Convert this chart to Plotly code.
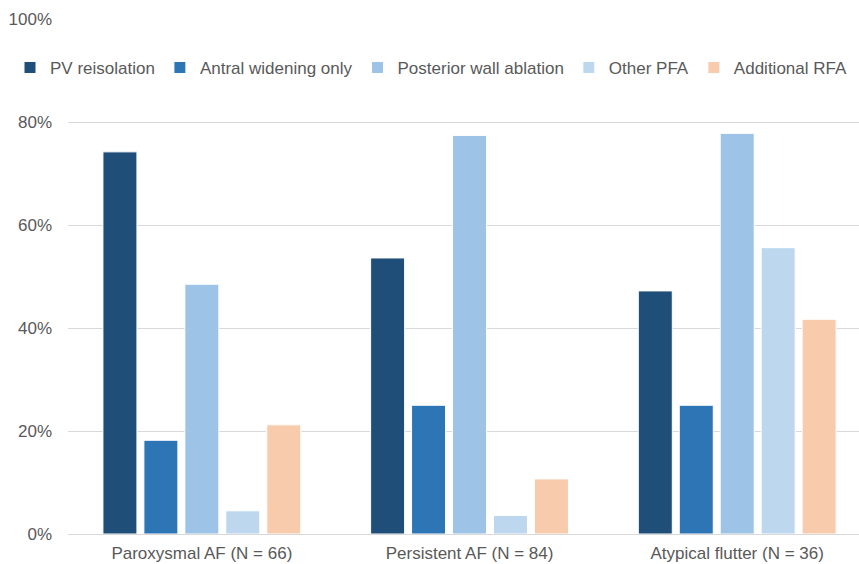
import plotly.graph_objects as go

categories = ["Paroxysmal AF (N = 66)", "Persistent AF (N = 84)", "Atypical flutter (N = 36)"]
series_names = ["PV reisolation", "Antral widening only", "Posterior wall ablation", "Other PFA", "Additional RFA"]
pv_reisolation = [0.742, 0.536, 0.472]
antral_widening = [0.182, 0.250, 0.250]
posterior_wall = [0.485, 0.774, 0.778]
other_pfa = [0.045, 0.036, 0.556]
additional_rfa = [0.212, 0.107, 0.417]
colors = ["#1F4E79", "#2E75B6", "#9DC3E6", "#BDD7EE", "#F8CBAD"]
tick_vals = [0, 0.2, 0.4, 0.6, 0.8, 1.0]
tick_text = ["0%", "20%", "40%", "60%", "80%", "100%"]

series_values = [pv_reisolation, antral_widening, posterior_wall, other_pfa, additional_rfa]

W, H = 859, 564
axis_left = 68  # px where the value axis sits

fig = go.Figure()
for name, vals, col in zip(series_names, series_values, colors):
    fig.add_trace(go.Bar(
        x=[0, 1, 2], y=vals, name=name,
        marker=dict(color=col, line=dict(color="white", width=1)),
    ))

font_family = "Liberation Sans, Arial, sans-serif"
fig.update_layout(
    width=W, height=H,
    margin=dict(l=0, r=0, t=19, b=30),
    paper_bgcolor="white", plot_bgcolor="white",
    barmode="group", bargap=0.235, bargroupgap=0.17,
    font=dict(family=font_family, size=17, color="#595959"),
    xaxis=dict(
        domain=[axis_left / W, 1],
        range=[-0.5, 2.455], tickvals=[0, 1, 2], ticktext=categories,
        showgrid=False, zeroline=False, showline=False, ticks="",
        ticklabelstandoff=7,
        tickfont=dict(size=17, color="#595959"),
    ),
    yaxis=dict(
        range=[0, 1.0], tickvals=tick_vals, ticktext=tick_text,
        showgrid=True, gridcolor="#D9D9D9", gridwidth=1,
        zeroline=True, zerolinecolor="#D9D9D9", zerolinewidth=1,
        showline=False, ticks="", ticklabelstandoff=15,
        tickfont=dict(size=17, color="#595959"),
    ),
    legend=dict(
        orientation="h", x=10 / W, y=0.905, xanchor="left", yanchor="middle",
        font=dict(size=17, color="#595959"), itemwidth=30,
        bgcolor="rgba(0,0,0,0)", traceorder="normal",
    ),
    showlegend=True,
)

fig.write_html("out.html")
